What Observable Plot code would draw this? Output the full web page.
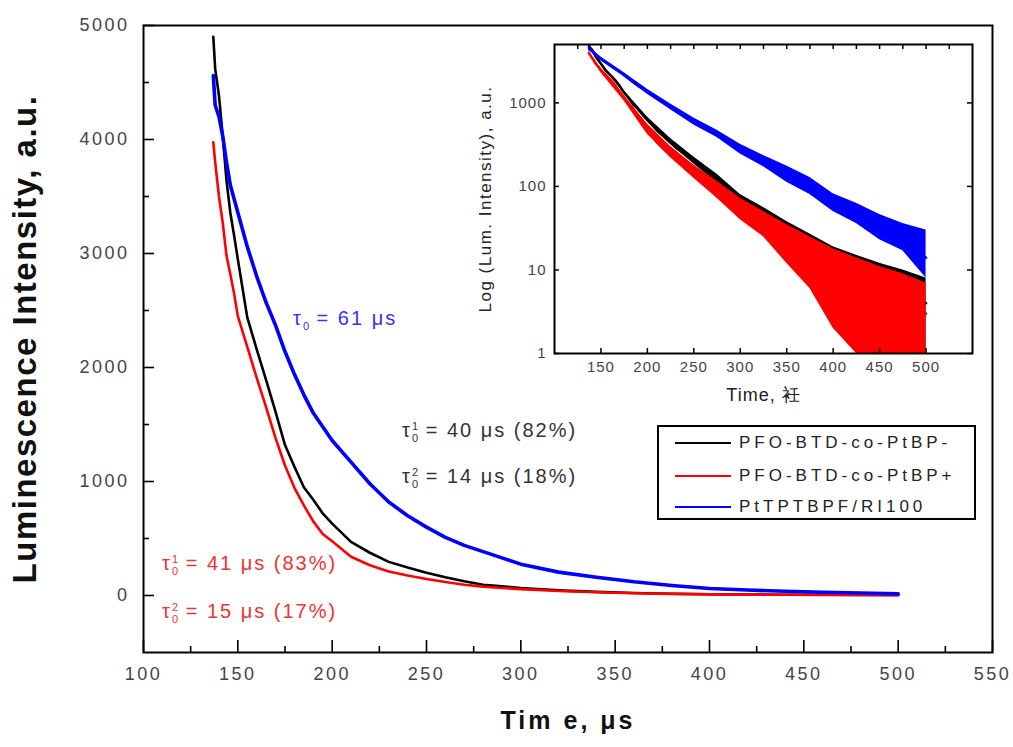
<!DOCTYPE html>
<html><head><meta charset="utf-8">
<script src="https://cdn.jsdelivr.net/npm/d3@7"></script>
<script src="https://cdn.jsdelivr.net/npm/@observablehq/plot@0.6"></script>
<style>
body{margin:0;background:#fff;}
#wrap{position:relative;width:1013px;height:747px;overflow:hidden;font-family:"Liberation Sans",Arial,sans-serif;background:#fff;}
#main,#inset{position:absolute;}
#main{left:0;top:0;}
#inset{left:440px;top:30px;}
#main [aria-label="x-axis tick label"] text,#main [aria-label="y-axis tick label"] text{letter-spacing:2.5px;}
#main [aria-label="x-axis label"] text{font-size:25px;font-weight:bold;fill:#111;letter-spacing:3px;}
#main [aria-label="y-axis label"] text{font-size:33px;font-weight:bold;fill:#111;letter-spacing:1.5px;}
#inset [aria-label="x-axis tick label"] text,#inset [aria-label="y-axis tick label"] text{letter-spacing:1px;}
#inset [aria-label="x-axis label"] text{font-size:18px;fill:#222;letter-spacing:1px;}
#inset [aria-label="y-axis label"] text{font-size:17px;fill:#222;letter-spacing:1.5px;}
.ann{position:absolute;font-size:20px;line-height:20px;letter-spacing:2px;white-space:nowrap;}
.sb{position:relative;top:0.45em;font-size:0.55em;letter-spacing:0;}
.sp{position:relative;top:-0.65em;font-size:0.55em;margin-left:-0.55em;letter-spacing:0;}
#legend{position:absolute;left:657px;top:425px;width:315px;height:91px;border:2px solid #000;background:#fff;}
.lrow{position:absolute;left:16px;height:20px;white-space:nowrap;font-size:17px;letter-spacing:4px;color:#222;}
.lrow .sw{display:inline-block;width:56px;height:0;border-top:2px solid;vertical-align:middle;margin-right:8px;position:relative;top:-1px;}
</style>
</head><body>
<div id="wrap">
  <div id="main"></div>
  <div id="inset"></div>
  <div id="annots"></div>
  <div id="legend"></div>
</div>
<script>
// ---- data ----
const times = [137,138,140,142,144,146,148,150,155,160,165,170,175,180,185,190,195,200,210,220,230,240,250,260,270,280,290,300,320,340,360,380,400,420,440,460,480,500];
const blackVals = [4900,4620,4385,4030,3640,3360,3160,2950,2440,2160,1890,1610,1320,1130,950,840,720,630,470,375,295,245,200,160,125,95,80,65,45,32,22,15,11,9,7,6,5,4];
const redVals = [3975,3800,3500,3270,2980,2820,2650,2450,2180,1910,1650,1380,1140,945,790,650,540,475,340,265,210,175,145,118,95,78,66,56,40,28,20,14,10,8,6,5,4,3];
const blueVals = [4560,4300,4200,4030,3800,3600,3480,3360,3060,2800,2570,2370,2140,1940,1760,1600,1480,1360,1170,980,820,700,600,510,440,385,330,275,205,160,120,88,62,48,37,28,22,14];

// noise envelopes seen in the log-scale inset
const bandTimes = [137,150,175,200,225,250,275,300,325,350,375,400,425,450,475,500];
const blackLo = [4600,2850,1300,590,320,185,110,58,38,20,11,5,2,1,1,1];
const blackHi = [4900,3050,1400,680,375,225,140,80,56,38,27,19,15,12,10,8];
const redLo = [3800,2300,1050,420,220,125,72,40,25,12,6,2,1,1,1,1];
const redHi = [4100,2600,1230,560,300,180,115,72,50,35,25,18,14,11,9,7];
const blueLo = [4300,3200,2050,1270,830,545,385,245,172,112,80,50,36,23,17,8];
const blueHi = [4700,3550,2300,1460,970,660,470,320,235,175,128,82,63,46,36,30];

const seriesNames = ["PFO-BTD-co-PtBP-","PFO-BTD-co-PtBP+","PtTPTBPF/RI100"];
const seriesColors = ["#000000","#ff0000","#0000ff"];

const xMajor = [100,150,200,250,300,350,400,450,500,550];
const xMinor = [125,175,225,275,325,375,425,475,525];
const yMajor = [0,1000,2000,3000,4000,5000];
const yMinor = [500,1500,2500,3500,4500];
const insetXTicks = [150,200,250,300,350,400,450,500];
const insetTopTicks = [125,150,175,200,225,250,275,300,325,350,375,400,425,450,475,500,525];
const insetYTicks = [1,10,100,1000];

// ---- tables ----
const valueSets = [blackVals, redVals, blueVals];
const lowSets = [blackLo, redLo, blueLo];
const highSets = [blackHi, redHi, blueHi];
const lines = valueSets.map((vals, s) => times.map((t, i) => ({t, v: vals[i], s})));
const bands = lowSets.map((lo, s) => bandTimes.map((t, i) => ({t, lo: lo[i], hi: highSets[s][i], s})));

// ---- main plot ----
const W = 1013, H = 747, mL = 143, mR = 21, mT = 25, mB = 95;
const FW = W - mL - mR, FH = H - mT - mB;
const font = "Liberation Sans, Arial, sans-serif";
const widths = [2.6, 2.6, 3.6];

const main = Plot.plot({
  width: W, height: H, marginLeft: mL, marginRight: mR, marginTop: mT, marginBottom: mB,
  style: {fontFamily: font, fontSize: "18px", background: "transparent", color: "#000"},
  x: {domain: [100, 550]},
  y: {domain: [-500, 5000]},
  marks: [
    ...lines.map((d, s) => Plot.line(d, {x: "t", y: "v", stroke: seriesColors[s], strokeWidth: widths[s], clip: true})),
    Plot.ruleX(xMinor, {x: d => d, insetTop: FH - 6, stroke: "#000", strokeWidth: 1.6}),
    Plot.ruleX(xMajor, {x: d => d, insetTop: FH - 12, stroke: "#000", strokeWidth: 1.6}),
    Plot.ruleY(yMinor, {y: d => d, insetRight: FW - 6, stroke: "#000", strokeWidth: 1.6}),
    Plot.ruleY(yMajor, {y: d => d, insetRight: FW - 11, stroke: "#000", strokeWidth: 1.6}),
    Plot.axisX({ticks: xMajor, tickSize: 0, tickPadding: 15, tickFormat: d => String(d), fill: "#444",
      label: "Tim e, μs", labelAnchor: "center", labelArrow: "none", labelOffset: 76}),
    Plot.axisY({ticks: yMajor, tickSize: 0, tickPadding: 14, tickFormat: d => String(d), fill: "#444",
      label: "Luminescence Intensity, a.u.", labelAnchor: "center", labelArrow: "none", labelOffset: 131}),
    Plot.frame({stroke: "#000", strokeWidth: 2})
  ]
});
document.getElementById("main").appendChild(main);

// ---- inset (log scale) ----
const iW = 560, iH = 380, iL = 114, iR = 28, iT = 14, iB = 57;
const iFW = iW - iL - iR, iFH = iH - iT - iB;
const inset = Plot.plot({
  width: iW, height: iH, marginLeft: iL, marginRight: iR, marginTop: iT, marginBottom: iB,
  style: {fontFamily: font, fontSize: "15px", background: "transparent", color: "#000"},
  x: {domain: [100, 550]},
  y: {type: "log", domain: [1, 5000]},
  marks: [
    ...[0, 1, 2].flatMap(s => [
      Plot.line(lines[s], {x: "t", y: "v", stroke: seriesColors[s], strokeWidth: 2.5, clip: true}),
      Plot.areaY(bands[s], {x: "t", y1: "lo", y2: "hi", fill: seriesColors[s], clip: true})
    ]),
    Plot.ruleX(insetXTicks, {x: d => d, insetTop: iFH - 5, stroke: "#000", strokeWidth: 1.5}),
    Plot.ruleX(insetTopTicks, {x: d => d, insetBottom: iFH - 5, stroke: "#000", strokeWidth: 1.5}),
    Plot.ruleY(insetYTicks, {y: d => d, insetRight: iFW - 5, stroke: "#000", strokeWidth: 1.5}),
    Plot.ruleY(insetYTicks, {y: d => d, insetLeft: iFW - 5, stroke: "#000", strokeWidth: 1.5}),
    Plot.axisX({ticks: insetXTicks, tickSize: 0, tickPadding: 8, tickFormat: d => String(d), fill: "#444",
      label: "Time, 衽", labelAnchor: "center", labelArrow: "none", labelOffset: 47}),
    Plot.axisY({ticks: insetYTicks, tickSize: 0, tickPadding: 8, tickFormat: d => String(d), fill: "#444",
      label: "Log (Lum. Intensity), a.u.", labelAnchor: "center", labelArrow: "none", labelOffset: 76}),
    Plot.frame({stroke: "#000", strokeWidth: 2})
  ]
});
document.getElementById("inset").appendChild(inset);

// ---- annotations ----
const annotations = [
  {left: 293, top: 308, color: "#3333ff", sup: "", rest: " = 61 μs"},
  {left: 402, top: 420, color: "#333333", sup: "1", rest: " = 40 μs (82%)"},
  {left: 402, top: 466, color: "#333333", sup: "2", rest: " = 14 μs (18%)"},
  {left: 162, top: 553, color: "#ee3333", sup: "1", rest: " = 41 μs (83%)"},
  {left: 162, top: 601, color: "#ee3333", sup: "2", rest: " = 15 μs (17%)"}
];
const annDiv = document.getElementById("annots");
annotations.forEach(a => {
  const d = document.createElement("div");
  d.className = "ann";
  d.style.left = a.left + "px";
  d.style.top = a.top + "px";
  d.style.color = a.color;
  d.innerHTML = "τ<span class='sb'>0</span>" + (a.sup ? "<span class='sp'>" + a.sup + "</span>" : "") + a.rest;
  annDiv.appendChild(d);
});

// ---- legend ----
const leg = document.getElementById("legend");
const rowTops = [6, 39, 70];
seriesNames.forEach((name, i) => {
  const r = document.createElement("div");
  r.className = "lrow";
  r.style.top = rowTops[i] + "px";
  r.innerHTML = "<span class='sw' style='border-color:" + seriesColors[i] + "'></span>" + name;
  leg.appendChild(r);
});
</script>
</body></html>
